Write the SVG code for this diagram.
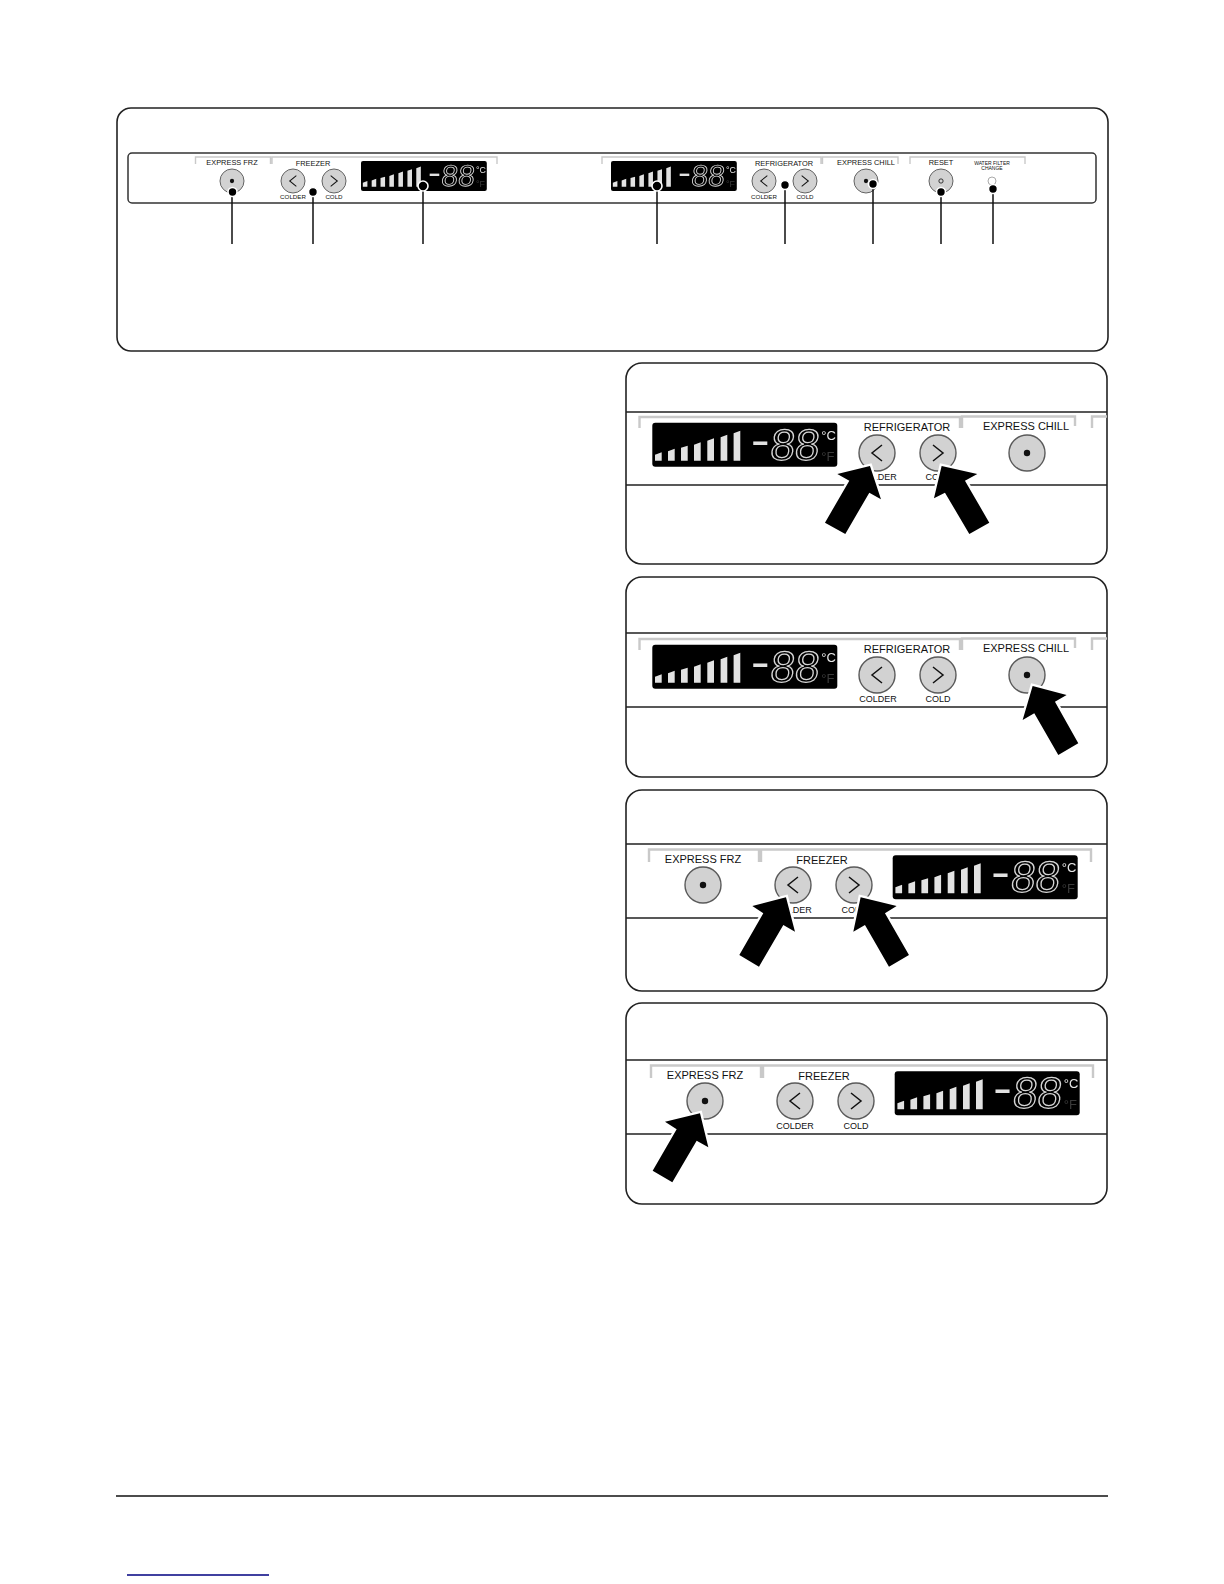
<svg xmlns="http://www.w3.org/2000/svg" width="1224" height="1584" viewBox="0 0 1224 1584">
<style>
text{font-family:"Liberation Sans",Arial,sans-serif;fill:#111;text-anchor:middle}
.box{fill:#fff;stroke:#222;stroke-width:1.6}
.rule{stroke:#222;stroke-width:1.6;fill:none}
.brk{fill:none;stroke:#c9c9c9;stroke-width:2.4}
.btn{fill:#d2d2d2;stroke:#5a5a5a;stroke-width:1.4}
.chev{fill:none;stroke:#111;stroke-width:1.5}
.l11{font-size:11px}.l9{font-size:9px}.l7{font-size:7.4px}.l6{font-size:6.2px}.l5{font-size:5px}
.lcd{fill:#000}
.bar{fill:#e2e2e2}
.read{filter:url(#mono)}
.num{font-size:44px;fill:#000;stroke:#d6d6d6;stroke-width:1.3;text-anchor:start}
.dash{font-size:44px;fill:#e2e2e2;text-anchor:start}
.uc{font-size:13px;fill:#e6e6e6;text-anchor:start}
.uf{font-size:13px;fill:#3a3a3a;text-anchor:start}
.lead{stroke:#111;stroke-width:1.5;fill:none}
.dot{fill:#000;stroke:#fff;stroke-width:1.6}
.arrow{fill:#000;stroke:#fff;stroke-width:14;paint-order:stroke;stroke-linejoin:miter}
</style>
<defs>
<filter id="mono" x="-5%" y="-20%" width="110%" height="140%"><feColorMatrix type="saturate" values="0"/></filter>
<g id="lcd-base">
<rect class="lcd" x="0" y="0" width="185" height="44" rx="3"/>
<path class="bar" d="M2.7 38V32L9.4 29.5V38ZM15.7 38V28.5L22.4 26V38ZM28.7 38V25L35.4 23V38ZM41.7 38V22L48.4 19.5V38ZM55 38V18L61.7 15.5V38ZM68.3 38V14.5L75 12V38ZM81.3 38V10.500L88 8V38Z"/>
</g>
<g id="btn-left"><circle class="btn" r="18"/><path class="chev" d="M5 -8L-5 0L5 8"/></g>
<g id="btn-right"><circle class="btn" r="18"/><path class="chev" d="M-5 -8L5 0L-5 8"/></g>
<g id="btn-dot"><circle class="btn" r="18"/><circle r="3.2" fill="#111"/></g>
<g id="btn-ring"><circle class="btn" r="18"/><circle r="3.2" fill="none" stroke="#111" stroke-width="1.2"/></g>
</defs>
<rect width="1224" height="1584" fill="#fff"/>

<g id="overview">
<rect class="box" x="117" y="108" width="991" height="243" rx="14"/>
<rect x="128" y="153" width="968" height="50" rx="4" fill="#fff" stroke="#333" stroke-width="1.5"/>
<path class="brk" style="stroke-width:1.4" d="M195.500 164V157H270.500V164M272 164V157H497V164M602 164V157H821V164M822.500 164V157H898V164M910 164V157H1025V164"/>
<g id="ov-express-frz"><text class="l7" x="232" y="165">EXPRESS FRZ</text><use href="#btn-dot" transform="translate(232 181) scale(.667)"/></g>
<g id="ov-freezer"><text class="l7" x="313" y="166">FREEZER</text><use href="#btn-left" transform="translate(293 181) scale(.667)"/><use href="#btn-right" transform="translate(334 181) scale(.667)"/><text class="l6" x="293" y="199">COLDER</text><text class="l6" x="334" y="199">COLD</text></g>
<g id="ov-freezer-display" transform="translate(361 161) scale(.68)"><use href="#lcd-base"/><g class="read"><text class="dash" transform="translate(98.400 32) scale(1.3 1)">-</text><text class="num" transform="translate(117 37) skewX(-6)">88</text><text class="uc" x="169" y="17">°C</text><text class="uf" x="169" y="38">°F</text></g></g>
<g id="ov-fridge-display" transform="translate(611 161) scale(.68)"><use href="#lcd-base"/><g class="read"><text class="dash" transform="translate(98.400 32) scale(1.3 1)">-</text><text class="num" transform="translate(117 37) skewX(-6)">88</text><text class="uc" x="169" y="17">°C</text><text class="uf" x="169" y="38">°F</text></g></g>
<g id="ov-refrigerator"><text class="l7" x="784" y="166">REFRIGERATOR</text><use href="#btn-left" transform="translate(764 181) scale(.667)"/><use href="#btn-right" transform="translate(805 181) scale(.667)"/><text class="l6" x="764" y="199">COLDER</text><text class="l6" x="805" y="199">COLD</text></g>
<g id="ov-express-chill"><text class="l7" x="866" y="165">EXPRESS CHILL</text><use href="#btn-dot" transform="translate(866 181) scale(.667)"/></g>
<g id="ov-reset"><text class="l7" x="941" y="165">RESET</text><use href="#btn-ring" transform="translate(941 181) scale(.667)"/></g>
<g id="ov-water-filter"><text class="l5" x="992" y="165">WATER FILTER</text><text class="l5" x="992" y="170">CHANGE</text><circle cx="992" cy="181" r="4" fill="#fff" stroke="#aaa" stroke-width="1"/></g>
</g>

<g id="panel-refrigerator">
<rect class="box" x="626" y="363" width="481" height="201" rx="16"/>
<path class="rule" d="M626 412H1107M626 485H1107"/>
<g transform="translate(620 360)">
<path class="brk" d="M19.500 68V57H340V68M342 68V56.500H455V66M472 68V56.500H487"/>
<g transform="translate(32.300 62.700)"><use href="#lcd-base"/><g class="read"><text class="dash" transform="translate(98.400 32) scale(1.3 1)">-</text><text class="num" transform="translate(117 37) skewX(-6)">88</text><text class="uc" x="169" y="17">°C</text><text class="uf" x="169" y="38">°F</text></g></g>
<text class="l11" x="287" y="71">REFRIGERATOR</text><text class="l11" x="406" y="70">EXPRESS CHILL</text>
<use href="#btn-left" x="257" y="93"/><use href="#btn-right" x="318" y="93"/><use href="#btn-dot" x="407" y="93"/>
<text class="l9" x="258" y="120">COLDER</text><text class="l9" x="318" y="120">COLD</text>
</g>
</g>

<g id="panel-express-chill">
<rect class="box" x="626" y="577" width="481" height="200" rx="16"/>
<path class="rule" d="M626 633H1107M626 707H1107"/>
<g transform="translate(620 582)">
<path class="brk" d="M19.500 68V57H340V68M342 68V56.500H455V66M472 68V56.500H487"/>
<g transform="translate(32.300 62.700)"><use href="#lcd-base"/><g class="read"><text class="dash" transform="translate(98.400 32) scale(1.3 1)">-</text><text class="num" transform="translate(117 37) skewX(-6)">88</text><text class="uc" x="169" y="17">°C</text><text class="uf" x="169" y="38">°F</text></g></g>
<text class="l11" x="287" y="71">REFRIGERATOR</text><text class="l11" x="406" y="70">EXPRESS CHILL</text>
<use href="#btn-left" x="257" y="93"/><use href="#btn-right" x="318" y="93"/><use href="#btn-dot" x="407" y="93"/>
<text class="l9" x="258" y="120">COLDER</text><text class="l9" x="318" y="120">COLD</text>
</g>
</g>

<g id="panel-freezer">
<rect class="box" x="626" y="790" width="481" height="201" rx="16"/>
<path class="rule" d="M626 844H1107M626 918H1107"/>
<g transform="translate(620 780)">
<path class="brk" d="M29 82V69.500H139V82M141 82V69.500H471V82"/>
<g transform="translate(272.700 75.300)"><use href="#lcd-base"/><g class="read"><text class="dash" transform="translate(98.400 32) scale(1.3 1)">-</text><text class="num" transform="translate(117 37) skewX(-6)">88</text><text class="uc" x="169" y="17">°C</text><text class="uf" x="169" y="38">°F</text></g></g>
<text class="l11" x="83" y="83">EXPRESS FRZ</text><text class="l11" x="202" y="84">FREEZER</text>
<use href="#btn-dot" x="83" y="105"/><use href="#btn-left" x="173" y="105"/><use href="#btn-right" x="234" y="105"/>
<text class="l9" x="173" y="133">COLDER</text><text class="l9" x="234" y="133">COLD</text>
</g>
</g>

<g id="panel-express-frz">
<rect class="box" x="626" y="1003" width="481" height="201" rx="16"/>
<path class="rule" d="M626 1060H1107M626 1134H1107"/>
<g transform="translate(622 996)">
<path class="brk" d="M29 82V69.500H139V82M141 82V69.500H471V82"/>
<g transform="translate(272.700 75.300)"><use href="#lcd-base"/><g class="read"><text class="dash" transform="translate(98.400 32) scale(1.3 1)">-</text><text class="num" transform="translate(117 37) skewX(-6)">88</text><text class="uc" x="169" y="17">°C</text><text class="uf" x="169" y="38">°F</text></g></g>
<text class="l11" x="83" y="83">EXPRESS FRZ</text><text class="l11" x="202" y="84">FREEZER</text>
<use href="#btn-dot" x="83" y="105"/><use href="#btn-left" x="173" y="105"/><use href="#btn-right" x="234" y="105"/>
<text class="l9" x="173" y="132.500">COLDER</text><text class="l9" x="234" y="132.500">COLD</text>
</g>
</g>

<g id="connectors">
<path class="lead" d="M232 192V244M313 192V244M423 186V244M657 186V244M785 185V244M873 184V244M941 192V244M993 189V244"/>
<g>
<circle class="dot" cx="232.500" cy="192" r="4.500"/><circle class="dot" cx="313" cy="192" r="4.500"/><circle class="dot" cx="423" cy="186" r="5"/><circle class="dot" cx="657" cy="186" r="5"/><circle class="dot" cx="785" cy="185" r="4.500"/><circle class="dot" cx="873" cy="184" r="4.500"/><circle class="dot" cx="941" cy="192" r="4.500"/><circle class="dot" cx="993" cy="189" r="4.500"/>
</g>
<g transform="translate(620 360) scale(.3333)">
<polygon class="arrow" points="750,318 783,418 748,398 676,522 615,488 688,362 652,342"/>
<polygon class="arrow" points="965,318 1072,342 1035,362 1108,488 1048,522 975,398 942,415"/>
</g>
<g transform="translate(620 570) scale(.3333)">
<polygon class="arrow" points="1238,348 1340,375 1305,395 1375,520 1315,555 1243,430 1208,450"/>
</g>
<g transform="translate(620 780) scale(.3333)">
<polygon class="arrow" points="498,352 525,455 490,435 417,560 358,525 430,400 397,378"/>
<polygon class="arrow" points="722,352 830,378 795,400 867,525 807,560 735,435 700,455"/>
</g>
<g transform="translate(620 1000) scale(.3333)">
<polygon class="arrow" points="240,340 265,442 230,422 157,547 98,512 170,388 135,365"/>
</g>
</g>

<path d="M116 1496H1108" stroke="#111" stroke-width="1.5" fill="none"/>
<path d="M127 1575H269" stroke="#000080" stroke-width="1.5" fill="none"/>
</svg>
